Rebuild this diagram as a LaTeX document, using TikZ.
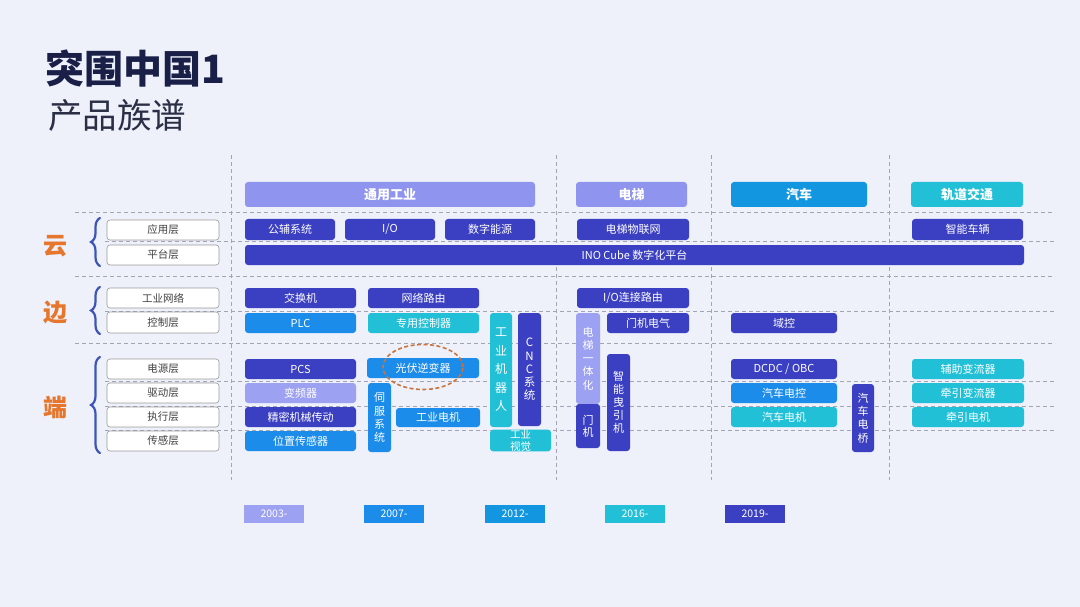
\documentclass[tikz,border=0pt]{standalone}
\usepackage{fontspec}
\setmainfont{Noto Sans CJK SC}
\usetikzlibrary{decorations.pathreplacing,shapes.geometric}
\definecolor{bg}{HTML}{EEF0FA}
\definecolor{dk}{HTML}{3B3FC2}
\definecolor{pw}{HTML}{8F95EE}
\definecolor{lpw}{HTML}{9DA1F2}
\definecolor{bl}{HTML}{1C8CEB}
\definecolor{hb}{HTML}{1396E0}
\definecolor{cy}{HTML}{21C0D6}
\definecolor{org}{HTML}{E5762C}
\definecolor{ell}{HTML}{C8743C}
\definecolor{ttl}{HTML}{1A1F48}
\definecolor{sub}{HTML}{2A2F45}
\definecolor{grid}{HTML}{A2A4B2}
\definecolor{brc}{HTML}{3E55B8}
\tikzset{
  rb/.style={rounded corners=3pt, inner sep=0pt, text=white, align=center,
    font=\fontsize{11}{13}\selectfont},
  lb/.style={draw=gray!80, fill=white, rounded corners=3pt, inner sep=0pt,
    text=black!75, font=\fontsize{10.5}{12}\selectfont, line width=0.6pt},
  yr/.style={inner sep=0pt, text=white, font=\fontsize{10.5}{12}\selectfont},
  gridline/.style={draw=grid, dash pattern=on 4pt off 3pt, line width=0.8pt},
  bigl/.style={text=org, font=\fontsize{24}{26}\selectfont\bfseries},
  brace/.style={draw=brc, line width=2.2pt, line cap=round, decorate, decoration={brace, amplitude=9pt, aspect=0.5}}
}
% #1 options, #2 name, #3 x1, #4 y1, #5 x2, #6 y2, #7 colour, #8 text
\newcommand\rbox[8][]{\node[rb,fill=#7,minimum width={(#5-#3)*1pt},minimum height={(#6-#4)*1pt},#1] (#2) at ({(#3+#5)/2},{(#4+#6)/2}) {#8};}
\newcommand\lbox[4]{\node[lb,minimum width=112pt,minimum height={(#3-#2)*1pt}] (#1) at (163,{(#2+#3)/2}) {#4};}
\newcommand\ybox[4]{\node[yr,fill=#3,minimum width=60pt,minimum height=18pt] (#1) at (#2,514) {#4};}
\begin{document}
\begin{tikzpicture}[x=1pt,y=-1pt]
\fill[bg] (0,0) rectangle (1080,607);
\useasboundingbox (0,0) rectangle (1080,607);
% title
\node[anchor=base west, inner sep=0pt, text=ttl, font=\fontsize{39}{39}\selectfont\bfseries] (title) at (45,84) {突围中国1};
\node[anchor=base west, inner sep=0pt, text=sub, font=\fontsize{34.5}{35}\selectfont] (subtitle) at (48,129) {产品族谱};
% grid lines
\foreach \yy in {212,276,343} \draw[gridline] (75,\yy) -- (1055,\yy);
\foreach \yy in {241,311,381,406,430} \draw[gridline] (105,\yy) -- (1055,\yy);
\foreach \xx in {231,556,711,889} \draw[gridline] (\xx,155) -- (\xx,480);
% big labels and braces
\node[bigl] (yun) at (55,246) {云};
\node[bigl] (bian) at (55,312) {边};
\node[bigl] (duan) at (55,407) {端};
\draw[brace] (100,266) -- (100,218);
\draw[brace] (100,334) -- (100,287);
\draw[brace] (100,453) -- (100,357);
% left labels
\lbox{l1}{220}{240}{应用层}
\lbox{l2}{245}{265}{平台层}
\lbox{l3}{288}{308}{工业网络}
\lbox{l4}{312}{333}{控制层}
\lbox{l5}{359}{379}{电源层}
\lbox{l6}{383}{403}{驱动层}
\lbox{l7}{407}{427}{执行层}
\lbox{l8}{431}{451}{传感层}
% headers
\rbox[font=\fontsize{13}{15}\selectfont\bfseries]{h1}{245}{182}{535}{207}{pw}{通用工业}
\rbox[font=\fontsize{13}{15}\selectfont\bfseries]{h2}{576}{182}{687}{207}{pw}{电梯}
\rbox[font=\fontsize{13}{15}\selectfont\bfseries]{h3}{731}{182}{867}{207}{hb}{汽车}
\rbox[font=\fontsize{13}{15}\selectfont\bfseries]{h4}{911}{182}{1023}{207}{cy}{轨道交通}
% application row
\rbox{a1}{245}{219}{335}{240}{dk}{公辅系统}
\rbox{a2}{345}{219}{435}{240}{dk}{I/O}
\rbox{a3}{445}{219}{535}{240}{dk}{数字能源}
\rbox{a4}{577}{219}{689}{240}{dk}{电梯物联网}
\rbox{a5}{912}{219}{1023}{240}{dk}{智能车辆}
% platform
\rbox{p1}{245}{245}{1024}{265}{dk}{INO Cube 数字化平台}
% network row
\rbox{n1}{245}{288}{356}{308}{dk}{交换机}
\rbox{n2}{368}{288}{479}{308}{dk}{网络路由}
\rbox{n3}{577}{288}{689}{308}{dk}{I/O连接路由}
% control row
\rbox{c1}{245}{313}{356}{333}{bl}{PLC}
\rbox{c2}{368}{313}{479}{333}{cy}{专用控制器}
\rbox{c3}{607}{313}{689}{333}{dk}{门机电气}
\rbox{c4}{731}{313}{837}{333}{dk}{域控}
% power row
\rbox{e1}{245}{359}{356}{379}{dk}{PCS}
\rbox{e2}{367}{358}{479}{378}{bl}{光伏逆变器}
\rbox{e3}{731}{359}{837}{379}{dk}{DCDC / OBC}
\rbox{e4}{912}{359}{1024}{379}{cy}{辅助变流器}
% drive row
\rbox{d1}{245}{383}{356}{403}{lpw}{变频器}
\rbox{d2}{731}{383}{837}{403}{bl}{汽车电控}
\rbox{d3}{912}{383}{1024}{403}{cy}{牵引变流器}
% actuator row
\rbox{x1}{245}{407}{356}{427}{dk}{精密机械传动}
\rbox{x2}{396}{408}{480}{427}{bl}{工业电机}
\rbox{x3}{731}{407}{837}{427}{cy}{汽车电机}
\rbox{x4}{912}{407}{1024}{427}{cy}{牵引电机}
% sensor row
\rbox{s1}{245}{431}{356}{451}{bl}{位置传感器}
% vertical boxes
\rbox[font=\fontsize{11}{13.3}\selectfont]{v1}{368}{383}{391}{452}{bl}{伺\\服\\系\\统}
\rbox[font=\fontsize{12}{18.5}\selectfont]{v2}{490}{313}{512}{427}{cy}{工\\业\\机\\器\\人}
\rbox[font=\fontsize{11.5}{13.3}\selectfont]{v3}{518}{313}{541}{426}{dk}{C\\N\\C\\系\\统}
\rbox[font=\fontsize{10.5}{12}\selectfont]{v4}{490}{432}{551}{449}{cy}{工业\\视觉}
\rbox[font=\fontsize{11}{13.3}\selectfont]{v5}{576}{313}{600}{404}{lpw}{电\\梯\\一\\体\\化}
\rbox[font=\fontsize{11}{12}\selectfont]{v6}{576}{404}{600}{448}{dk}{门\\机}
\rbox[font=\fontsize{11}{13}\selectfont]{v7}{607}{354}{630}{451}{dk}{智\\能\\曳\\引\\机}
\rbox[font=\fontsize{11}{13.3}\selectfont]{v8}{852}{384}{874}{452}{dk}{汽\\车\\电\\桥}
% highlight ellipse
\node[draw=ell, line width=1.6pt, dash pattern=on 4pt off 2.5pt, ellipse, minimum width=80pt, minimum height=45pt, inner sep=0pt] (hl) at (423,367) {};
% years
\ybox{y1}{274}{lpw}{2003-}
\ybox{y2}{394}{bl}{2007-}
\ybox{y3}{515}{hb}{2012-}
\ybox{y4}{635}{cy}{2016-}
\ybox{y5}{755}{dk}{2019-}
\end{tikzpicture}
\end{document}
